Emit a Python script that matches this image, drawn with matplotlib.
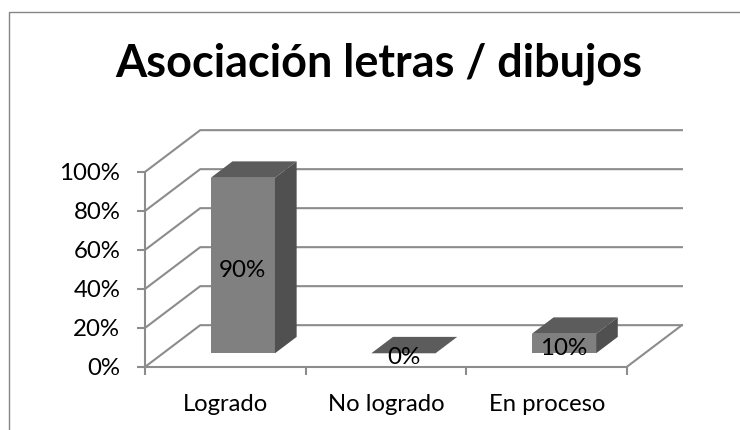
import matplotlib
matplotlib.use('Agg')
import matplotlib.pyplot as plt
from matplotlib.lines import Line2D
from matplotlib.patches import Polygon
import numpy as np

categories = ['Logrado', 'No logrado', 'En proceso']
values = [0.90, 0.0, 0.10]
labels = ['90%', '0%', '10%']
yticks = [0, 0.2, 0.4, 0.6, 0.8, 1.0]
yticklabels = ['0%', '20%', '40%', '60%', '80%', '100%']
title = 'Asociación letras / dibujos'

GRID = '#8c8c8c'
FRONT = '#808080'
TOP = '#5c5c5c'
SIDE = '#505050'

# --- Oblique projection: shift per unit of depth, in data units
DX, DY = 0.342, 0.213
D0, D1 = 0.323, 0.718  # bar start and end depth
WIDTH = 0.40


def proj(x, y, d):
    return (x + d*DX, y + d*DY)


plt.rcParams['font.family'] = ['Lato', 'DejaVu Sans']
fig = plt.figure(figsize=(7.4, 4.3), dpi=100)
ax = fig.add_axes([145.3/740, (430-366.7)/430, 481.7/740, 195/430])
ax.set_xlim(0, 3)
ax.set_ylim(0, 1)
ax.patch.set_visible(False)

# --- Walls
for y in yticks:
    xs, ys = zip(proj(0, y, 0), proj(0, y, 1), proj(3, y, 1))
    ax.plot(xs, ys, color=GRID, lw=1.5, clip_on=False, zorder=1)
xs, ys = zip(proj(3, 0, 0), proj(3, 0, 1))
ax.plot(xs, ys, color=GRID, lw=1.5, clip_on=False, zorder=1)

# --- Bars
for i, v in enumerate(values):
    x0c = i + 0.497 - WIDTH/2
    xl = x0c + D0*DX
    xr = xl + WIDTH
    y0 = D0*DY
    top = [proj(x0c, v, D0), proj(x0c + WIDTH, v, D0), proj(x0c + WIDTH, v, D1), proj(x0c, v, D1)]
    ax.add_patch(Polygon(top, fc=TOP, ec='none', clip_on=False, zorder=3))
    if v > 0:
        ax.bar(xl, v, width=WIDTH, bottom=y0, align='edge', color=FRONT, clip_on=False, zorder=3)
        side = [proj(x0c + WIDTH, 0, D0), proj(x0c + WIDTH, v, D0), proj(x0c + WIDTH, v, D1), proj(x0c + WIDTH, 0, D1)]
        ax.add_patch(Polygon(side, fc=SIDE, ec='none', clip_on=False, zorder=3))
    ax.text((xl + xr)/2, y0 + v/2 - 0.024, labels[i], ha='center', va='center',
            fontsize=17.4, color='black', clip_on=False, zorder=4)

# --- Axes
for s in ['top', 'right']:
    ax.spines[s].set_visible(False)
for s in ['left', 'bottom']:
    ax.spines[s].set_color(GRID)
    ax.spines[s].set_linewidth(1.5)
ax.set_yticks(yticks)
ax.set_yticklabels(yticklabels, fontsize=17.3)
ax.set_xticks([0, 1, 2, 3])
ax.set_xticklabels([])
ax.set_xticks([0.5, 1.5, 2.5], minor=True)
ax.set_xticklabels(categories, minor=True, fontsize=17.2)
ax.tick_params(axis='y', length=6, width=1.5, color=GRID, pad=12)
ax.tick_params(axis='x', which='major', length=6, width=1.5, color=GRID)
ax.tick_params(axis='x', which='minor', length=0, pad=20)

# --- Title and frame
fig.text(379/740, 1 - 64/430, title, ha='center', va='center', fontsize=32.4, fontweight='bold')
fig.add_artist(Line2D([8.5/740, 8.5/740, 1], [0, 1 - 11.5/430, 1 - 11.5/430], color='#868686', lw=1.0))

fig.savefig('out.png', dpi=100)
